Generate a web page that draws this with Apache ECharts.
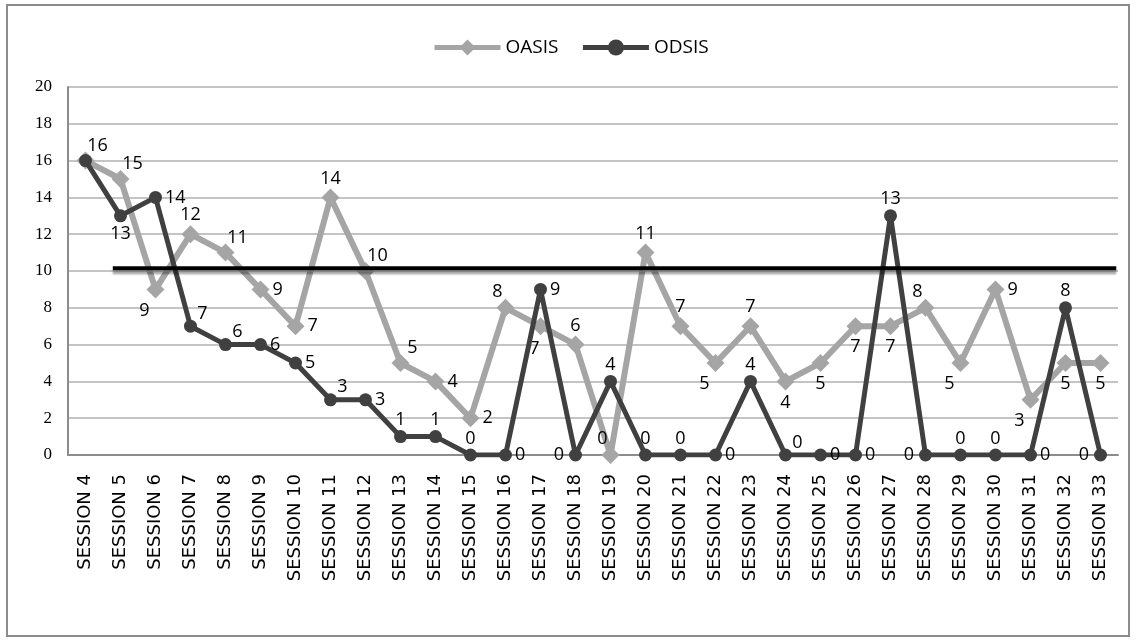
<!DOCTYPE html>
<html>
<head>
<meta charset="utf-8">
<script src="https://cdn.jsdelivr.net/npm/echarts@6/dist/echarts.min.js"></script>
<style>
  html, body { margin: 0; padding: 0; background: #fff; }
  #myChart { width: 1136px; height: 641px; }
</style>
</head>
<body>
<div id="myChart"></div>
<script>
// sessions 4..33
var sessions = ['SESSION 4', 'SESSION 5', 'SESSION 6', 'SESSION 7', 'SESSION 8', 'SESSION 9',
  'SESSION 10', 'SESSION 11', 'SESSION 12', 'SESSION 13', 'SESSION 14', 'SESSION 15',
  'SESSION 16', 'SESSION 17', 'SESSION 18', 'SESSION 19', 'SESSION 20', 'SESSION 21',
  'SESSION 22', 'SESSION 23', 'SESSION 24', 'SESSION 25', 'SESSION 26', 'SESSION 27',
  'SESSION 28', 'SESSION 29', 'SESSION 30', 'SESSION 31', 'SESSION 32', 'SESSION 33'];

var oasis = [16, 15, 9, 12, 11, 9, 7, 14, 10, 5, 4, 2, 8, 7, 6, 0, 11, 7, 5, 7, 4, 5, 7, 7, 8, 5, 9, 3, 5, 5];
var odsis = [16, 13, 14, 7, 6, 6, 5, 3, 3, 1, 1, 0, 0, 9, 0, 4, 0, 0, 0, 4, 0, 0, 0, 13, 0, 0, 0, 0, 8, 0];

// horizontal reference line (x in category index units)
var refX = [0.78, 29.45];
var refY = [10.15, 10.15];

var yTicks = { min: 0, max: 20, step: 2 };

// where each data label sits around its point
var oasisLabelPos = ['tr', 'tr', 'bl', 't', 'tr', 'r', 'r', 't', 'tr', 'tr', 'r', 'r', 'tl', 'bs', 't',
  'tl', 't', 't', 'bl', 't', 'b', 'b', 'b', 'b', 'tl', 'bl', 'r', 'bl', 'b', 'b'];
var odsisLabelPos = ['none', 'b', 'r', 'tr', 'tr', 'r', 'r', 'tr', 'r', 't', 't', 't', 'r', 'r', 'l',
  't', 't', 't', 'r', 't', 'tr', 'r', 'r', 't', 'l', 't', 't', 'r', 't', 'l'];

function labelFor(code) {
  switch (code) {
    case 'none': return { show: false };
    case 't': return { position: 'top', distance: 1 };
    case 'tr': return { position: 'top', distance: 0, offset: [12, 3] };
    case 'tl': return { position: 'top', distance: 0, offset: [-8, 2] };
    case 'r': return { position: 'right', distance: 3 };
    case 'l': return { position: 'left', distance: 5 };
    case 'b': return { position: 'bottom', distance: 3 };
    case 'bl': return { position: 'bottom', distance: 3, offset: [-11, 0] };
    case 'bs': return { position: 'bottom', distance: 5, offset: [-6, 0] };
  }
  return {};
}

function withLabels(values, codes) {
  var out = [];
  for (var i = 0; i < values.length; i++) {
    out.push({ value: values[i], label: labelFor(codes[i]) });
  }
  return out;
}

var refData = [];
for (var i = 0; i < refX.length; i++) refData.push([refX[i], refY[i]]);

var labelText = { show: true, color: '#000', fontFamily: 'Open Sans', fontSize: 18 };

var myChart = echarts.init(document.getElementById('myChart'), null, { renderer: 'canvas' });

myChart.setOption({
  animation: false,
  backgroundColor: '#fff',
  graphic: [{
    type: 'rect',
    shape: { x: 7, y: 5, width: 1122, height: 631 },
    style: { fill: 'none', stroke: '#8c8c8c', lineWidth: 2 },
    silent: true
  }],
  legend: {
    data: ['OASIS', 'ODSIS'],
    left: 427,
    top: 33,
    itemWidth: 66,
    itemHeight: 20,
    itemGap: 22,
    lineStyle: { width: 5 },
    textStyle: { fontFamily: 'Open Sans', fontSize: 19, color: '#000' }
  },
  grid: { left: 68, right: 18, top: 87, bottom: 186 },
  xAxis: [{
    type: 'category',
    data: sessions,
    boundaryGap: true,
    axisLine: { lineStyle: { color: '#8c8c8c', width: 2 } },
    axisTick: { show: false },
    axisLabel: {
      interval: 0,
      rotate: 90,
      margin: 19,
      color: '#000',
      fontFamily: 'DejaVu Sans',
      fontSize: 18
    }
  }, {
    type: 'value',
    show: false,
    min: -0.5,
    max: sessions.length - 0.5
  }],
  yAxis: {
    type: 'value',
    min: yTicks.min,
    max: yTicks.max,
    interval: yTicks.step,
    axisLine: { show: true, onZero: false, lineStyle: { color: '#8c8c8c', width: 2 } },
    axisTick: { show: false },
    splitLine: { lineStyle: { color: '#c4c4c4', width: 2 } },
    axisLabel: { color: '#000', fontFamily: "'Liberation Serif', 'Times New Roman', serif", fontSize: 17, margin: 16 }
  },
  series: [{
    name: 'OASIS',
    type: 'line',
    data: withLabels(oasis, oasisLabelPos),
    symbol: 'diamond',
    symbolSize: 18,
    lineStyle: { color: '#a5a5a5', width: 6 },
    itemStyle: { color: '#a5a5a5' },
    label: labelText,
    z: 3
  }, {
    name: 'ODSIS',
    type: 'line',
    data: withLabels(odsis, odsisLabelPos),
    symbol: 'circle',
    symbolSize: 13,
    lineStyle: { color: '#404040', width: 5 },
    itemStyle: { color: '#404040' },
    label: labelText,
    z: 4
  }, {
    name: 'ref',
    type: 'line',
    xAxisIndex: 1,
    data: refData,
    symbol: 'none',
    lineStyle: {
      color: '#000', width: 4,
      shadowColor: 'rgba(0,0,0,0.35)', shadowBlur: 2, shadowOffsetY: 4
    },
    silent: true,
    z: 5
  }]
});
</script>
</body>
</html>
